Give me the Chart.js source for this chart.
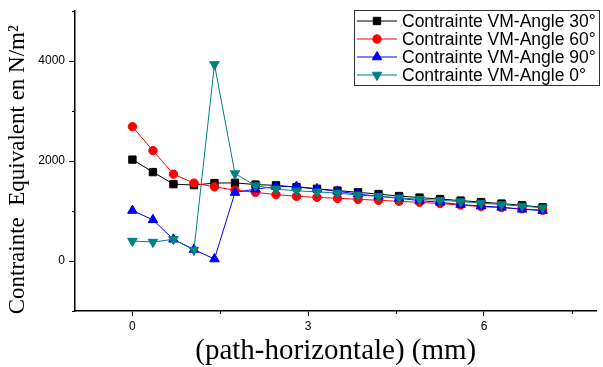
<!DOCTYPE html>
<html lang="fr">
<head>
<meta charset="UTF-8">
<title>Contrainte VM - path horizontale</title>
<script src="https://cdn.jsdelivr.net/npm/chart.js"></script>
<style>
  html, body { margin: 0; padding: 0; background: #ffffff; }
</style>
</head>
<body>
<canvas id="vmChart" width="603" height="367"></canvas>
<script>
// abscisses le long du chemin (mm)
const pathX = [0, 0.35, 0.7, 1.05, 1.4, 1.75, 2.1, 2.45, 2.8, 3.15, 3.5,
  3.85, 4.2, 4.55, 4.9, 5.25, 5.6, 5.95, 6.3, 6.65, 7];

// contrainte equivalente (N/m²)
const angle30 = [2030, 1780, 1540, 1520, 1560, 1565, 1530, 1515, 1480, 1445, 1410,
  1375, 1340, 1300, 1270, 1240, 1210, 1180, 1150, 1115, 1075];
const angle60 = [2690, 2210, 1740, 1560, 1485, 1420, 1375, 1330, 1295, 1275, 1255,
  1235, 1215, 1195, 1175, 1150, 1120, 1090, 1070, 1045, 1015];
const angle90 = [1010, 825, 435, 230, 40, 1370, 1440, 1490, 1490, 1445, 1395,
  1340, 1295, 1255, 1210, 1175, 1130, 1100, 1075, 1035, 1010];
const angle0 = [400, 380, 435, 220, 3935, 1750, 1510, 1440, 1405, 1385, 1360,
  1320, 1295, 1265, 1235, 1215, 1190, 1160, 1130, 1100, 1065];

const seriesLabels = [
  "Contrainte VM-Angle 30°",
  "Contrainte VM-Angle 60°",
  "Contrainte VM-Angle 90°",
  "Contrainte VM-Angle 0°"
];

const xTicks = [0, 3, 6];
const xMinorTicks = [1.5, 4.5, 7.5];
const yTicks = [0, 2000, 4000];
const yMinorTicks = [-1000, 1000, 3000, 5000];

function toPoints(values) {
  return pathX.map((x, i) => ({ x: x, y: values[i] }));
}

function makeDataset(label, values, color, style, radius, rotation, order) {
  return {
    label: label,
    data: toPoints(values),
    borderColor: color,
    backgroundColor: color,
    borderWidth: 1,
    pointStyle: style,
    pointRadius: radius,
    pointRotation: rotation,
    pointBorderWidth: 1,
    pointBackgroundColor: color,
    pointBorderColor: color,
    order: order
  };
}

// petites graduations intermediaires, comme dans Origin
const minorTicks = {
  id: "minorTicks",
  afterDraw(chart) {
    const ctx = chart.ctx;
    const xs = chart.scales.x;
    const ys = chart.scales.y;
    ctx.save();
    ctx.strokeStyle = "#000";
    ctx.lineWidth = 1;
    ctx.beginPath();
    xMinorTicks.forEach((v) => {
      const px = Math.round(xs.getPixelForValue(v)) + 0.5;
      ctx.moveTo(px, xs.top);
      ctx.lineTo(px, xs.top + 3);
    });
    yMinorTicks.forEach((v) => {
      const py = Math.round(ys.getPixelForValue(v)) + 0.5;
      ctx.moveTo(ys.right - 3, py);
      ctx.lineTo(ys.right, py);
    });
    ctx.stroke();
    ctx.restore();
  }
};

// legende encadree en haut a droite (trait + symbole)
const boxLegend = {
  id: "boxLegend",
  afterDraw(chart) {
    const ctx = chart.ctx;
    const bx = 354, by = 10, bw = 245, bh = 75;
    ctx.save();
    ctx.fillStyle = "#fff";
    ctx.fillRect(bx, by, bw, bh);
    ctx.strokeStyle = "#333";
    ctx.lineWidth = 1;
    ctx.strokeRect(bx + 0.5, by + 0.5, bw, bh);
    chart.data.datasets.forEach((ds, i) => {
      const cy = by + 11 + i * 18;
      ctx.strokeStyle = ds.borderColor;
      ctx.fillStyle = ds.borderColor;
      ctx.lineWidth = 1;
      ctx.beginPath();
      ctx.moveTo(bx + 3, cy);
      ctx.lineTo(bx + 43, cy);
      ctx.stroke();
      Chart.helpers.drawPoint(ctx, {
        pointStyle: ds.pointStyle,
        rotation: ds.pointRotation,
        radius: ds.pointRadius,
        borderWidth: 1
      }, bx + 23, cy);
      ctx.fillStyle = "#000";
      ctx.font = "17.5px 'Liberation Sans', Arial, sans-serif";
      ctx.textBaseline = "middle";
      ctx.textAlign = "left";
      ctx.fillText(ds.label, bx + 48, cy + 1);
    });
    ctx.restore();
  }
};

const tickFont = { family: "'Liberation Sans', Arial, sans-serif", size: 12 };
const titleFamily = "'Liberation Serif', 'Times New Roman', serif";

new Chart(document.getElementById("vmChart"), {
  type: "line",
  data: {
    datasets: [
      makeDataset(seriesLabels[0], angle30, "#000000", "rect", 5.2, 0, 4),
      makeDataset(seriesLabels[1], angle60, "#ff0000", "circle", 4.2, 0, 3),
      makeDataset(seriesLabels[2], angle90, "#0000ff", "triangle", 5.5, 0, 2),
      makeDataset(seriesLabels[3], angle0, "#008080", "triangle", 5.5, 180, 1)
    ]
  },
  options: {
    responsive: false,
    animation: false,
    devicePixelRatio: 1,
    layout: { padding: { top: 8, right: 0, bottom: 0, left: 0 } },
    plugins: {
      legend: { display: false },
      tooltip: { enabled: false }
    },
    scales: {
      x: {
        type: "linear",
        min: -0.98,
        max: 7.92,
        afterBuildTicks: (s) => { s.ticks = xTicks.map((v) => ({ value: v })); },
        afterFit: (s) => { s.height = 56; },
        grid: { drawOnChartArea: false, tickLength: 5, color: "#000", lineWidth: 1 },
        border: { color: "#000", width: 1.5 },
        ticks: { padding: 3, color: "#000", font: tickFont, maxRotation: 0,
          callback: (v) => String(v) },
        title: {
          display: true,
          text: "(path-horizontale) (mm)",
          color: "#000",
          font: { family: titleFamily, size: 29, lineHeight: 1 },
          padding: { top: 0, bottom: 1 }
        }
      },
      y: {
        type: "linear",
        min: -1000,
        max: 5000,
        afterBuildTicks: (s) => { s.ticks = yTicks.map((v) => ({ value: v })); },
        afterFit: (s) => { s.width = 75; },
        grid: { drawOnChartArea: false, tickLength: 6, color: "#000", lineWidth: 1 },
        border: { color: "#000", width: 1.5 },
        ticks: { padding: 4, color: "#000", font: tickFont,
          callback: (v) => String(v) },
        title: {
          display: true,
          // espaces finaux : decale le titre vers le bas comme sur l'original
          text: "Contrainte  Equivalent en N/m²\u00a0\u00a0\u00a0",
          color: "#000",
          font: { family: titleFamily, size: 23, lineHeight: 1 },
          padding: { top: 6, bottom: 0 }
        }
      }
    }
  },
  plugins: [minorTicks, boxLegend]
});
</script>
</body>
</html>
